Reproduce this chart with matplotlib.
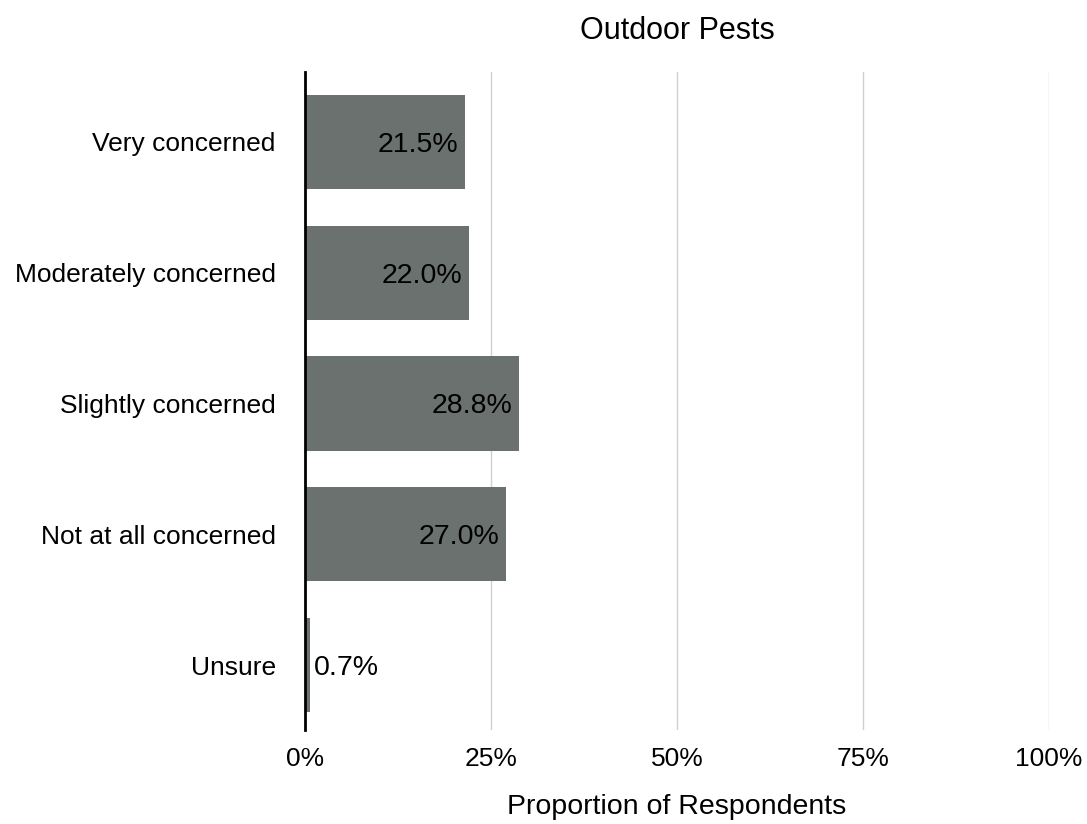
import matplotlib
matplotlib.use("Agg")
import matplotlib.pyplot as plt
from matplotlib.ticker import FuncFormatter

plt.rcParams['font.family'] = ['Liberation Sans', 'DejaVu Sans']

categories = ["Very concerned", "Moderately concerned", "Slightly concerned",
              "Not at all concerned", "Unsure"]
values = [21.5, 22.0, 28.8, 27.0, 0.7]
xticks = [0, 25, 50, 75, 100]

fig = plt.figure(figsize=(10.87, 8.24), dpi=100)
ax = fig.add_axes([305/1087, 1-730/824, (1049-305)/1087, (730-72)/824])

ypos = list(range(len(categories)))
ax.barh(ypos, values, height=0.72, color="#6b716e", zorder=2)
ax.set_ylim(4.497, -0.535)
ax.set_xlim(0, 100)
ax.set_yticks(ypos)
ax.set_yticklabels(categories, fontsize=19)
ax.set_xticks(xticks)
ax.xaxis.set_major_formatter(FuncFormatter(lambda v, p: f"{v:.0f}%"))
ax.tick_params(axis='x', labelsize=19, length=0, pad=12)
ax.tick_params(axis='y', length=0, pad=21)
for s in ["top", "right", "bottom"]:
    ax.spines[s].set_visible(False)
ax.spines["left"].set_linewidth(2)
ax.spines["left"].set_color("black")
ax.spines["left"].set_zorder(3)
for t in xticks[1:]:
    ax.axvline(t, color="#d0d0d0", linewidth=1, zorder=0)

for y, v in zip(ypos, values):
    if v > 5:
        ax.text(v - 0.9, y, f"{v:.1f}%", ha="right", va="center_baseline", fontsize=20.5, color="black", zorder=4)
    else:
        ax.text(v + 0.5, y, f"{v:.1f}%", ha="left", va="center_baseline", fontsize=20.5, color="black", zorder=4)

ax.set_xlabel("Proportion of Respondents", fontsize=20.5, labelpad=17)
ax.set_title("Outdoor Pests", fontsize=22, pad=24)

fig.savefig("out.png", dpi=100)
